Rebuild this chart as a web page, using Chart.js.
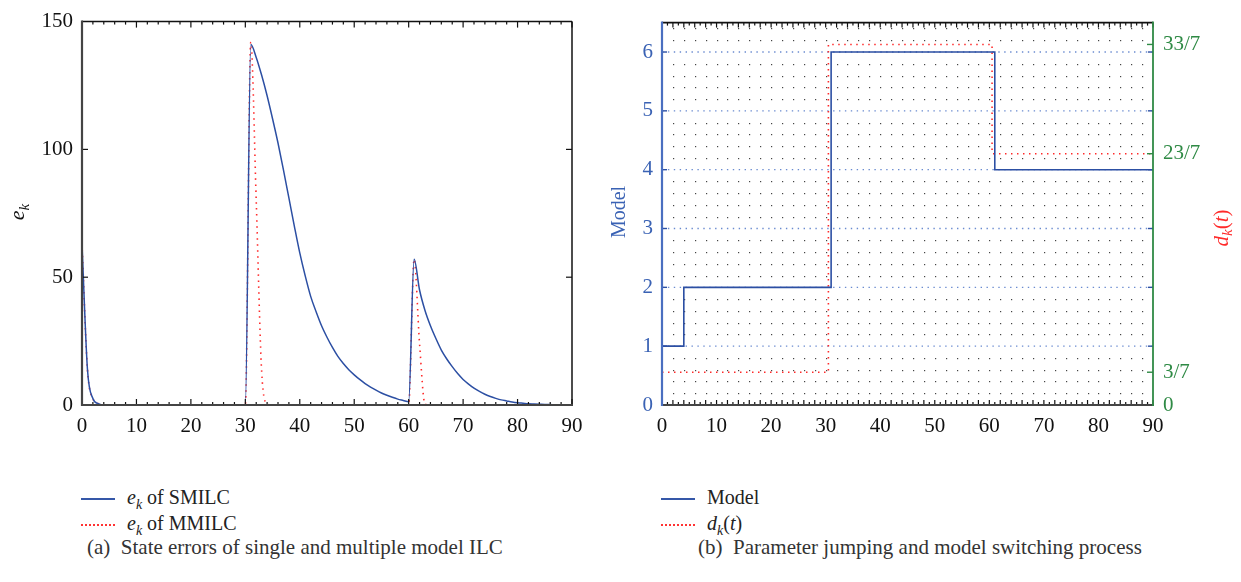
<!DOCTYPE html>
<html>
<head>
<meta charset="utf-8">
<script src="https://cdn.jsdelivr.net/npm/chart.js@4.4.1/dist/chart.umd.min.js"></script>
<style>
body { margin: 0; background: #fff; width: 1241px; height: 582px; position: relative; overflow: hidden; font-family: "Liberation Serif", serif; }
#c1 { position: absolute; left: 0; top: 0; }
#c2 { position: absolute; left: 600px; top: 0; }
.leg { position: absolute; font-size: 20px; color: #222; }
.leg div { height: 26px; line-height: 26px; white-space: nowrap; }
.smp { display: inline-block; width: 34px; vertical-align: middle; margin-right: 12px; }
.solid { border-top: 2px solid #3557a8; }
.dot { border-top: 2px dotted #f33; }
.cap { position: absolute; font-size: 21px; color: #333; white-space: nowrap; }
</style>
</head>
<body>
<canvas id="c1" width="600" height="440"></canvas>
<canvas id="c2" width="641" height="440"></canvas>

<div class="leg" style="left:81px; top:484px">
  <div><span class="smp solid"></span><i>e<sub style="font-size:14px">k</sub></i> of SMILC</div>
  <div><span class="smp dot"></span><i>e<sub style="font-size:14px">k</sub></i> of MMILC</div>
</div>
<div class="cap" style="left:87px; top:535px">(a)&nbsp; State errors of single and multiple model ILC</div>

<div class="leg" style="left:661px; top:484px">
  <div><span class="smp solid"></span>Model</div>
  <div><span class="smp dot"></span><i>d<sub style="font-size:14px">k</sub></i>(<i>t</i>)</div>
</div>
<div class="cap" style="left:698px; top:535px">(b)&nbsp; Parameter jumping and model switching process</div>

<script>
// iteration index k = 0..90
const kVals = [
  0,1,2,3,4,5,6,7,8,9,10,11,12,13,14,15,16,17,18,19,20,21,22,23,24,25,26,27,28,29,
  30,31,32,33,34,35,36,37,38,39,40,41,42,43,44,45,46,47,48,49,50,51,52,53,54,55,56,57,58,59,
  60,61,62,63,64,65,66,67,68,69,70,71,72,73,74,75,76,77,78,79,80,81,82,83,84,85,86,87,88,89,90
];

// (a) state errors
const eSMILC = [
  63,14,2.5,0.5,0,0,0,0,0,0,
  0,0,0,0,0,0,0,0,0,0,
  0,0,0,0,0,0,0,0,0,0,
  0,141,136,129,121,112,102.5,92,81,70,
  59.5,50.5,42.5,36.5,31,26.5,22.5,19,16.2,13.8,
  11.8,10,8.4,7,5.8,4.7,3.8,3,2.3,1.8,
  1.3,57,45,37,31,26,21.5,18,15,12.3,
  10,8.2,6.6,5.3,4.2,3.3,2.6,2,1.6,1.2,
  0.9,0.7,0.5,0.4,0.3,0.2,0.15,0.1,0.08,0.05,
  0.03
];
const eMMILC = [
  63,14,2.5,0.5,0,0,0,0,0,0,
  0,0,0,0,0,0,0,0,0,0,
  0,0,0,0,0,0,0,0,0,0,
  0,142,80,13,0.5,0,0,0,0,0,
  0,0,0,0,0,0,0,0,0,0,
  0,0,0,0,0,0,0,0,0,0,
  0,57,24,0.3,0,0,0,0,0,0,
  0,0,0,0,0,0,0,0,0,0,
  0,0,0,0,0,0,0,0,0,0,
  0
];

// (b) model index and parameter d_k(t)
const modelIdx = [
  1,1,1,1,2,2,2,2,2,2,
  2,2,2,2,2,2,2,2,2,2,
  2,2,2,2,2,2,2,2,2,2,
  2,6,6,6,6,6,6,6,6,6,
  6,6,6,6,6,6,6,6,6,6,
  6,6,6,6,6,6,6,6,6,6,
  6,4,4,4,4,4,4,4,4,4,
  4,4,4,4,4,4,4,4,4,4,
  4,4,4,4,4,4,4,4,4,4,
  4
];
const dParam = [
  3/7,3/7,3/7,3/7,3/7,3/7,3/7,3/7,3/7,3/7,
  3/7,3/7,3/7,3/7,3/7,3/7,3/7,3/7,3/7,3/7,
  3/7,3/7,3/7,3/7,3/7,3/7,3/7,3/7,3/7,3/7,
  3/7,33/7,33/7,33/7,33/7,33/7,33/7,33/7,33/7,33/7,
  33/7,33/7,33/7,33/7,33/7,33/7,33/7,33/7,33/7,33/7,
  33/7,33/7,33/7,33/7,33/7,33/7,33/7,33/7,33/7,33/7,
  33/7,23/7,23/7,23/7,23/7,23/7,23/7,23/7,23/7,23/7,
  23/7,23/7,23/7,23/7,23/7,23/7,23/7,23/7,23/7,23/7,
  23/7,23/7,23/7,23/7,23/7,23/7,23/7,23/7,23/7,23/7,
  23/7
];

const modelTicks = [0, 1, 2, 3, 4, 5, 6];
const dTickVals = [0, 3/7, 23/7, 33/7];
const dTickLabels = ['0', '3/7', '23/7', '33/7'];

const BLUE = '#2c4fa3';
const RED = '#ff2a2a';
const GREEN = '#2f8a45';
const FONT = '"Liberation Serif"';

const pts = arr => arr.map((v, i) => ({ x: kVals[i], y: v }));

// draws a small math label like e_k or d_k(t)
function drawMath(ctx, parts, cx, cy, rot, size, color) {
  const fnt = p => (p.it ? 'italic ' : '') + (p.sub ? Math.round(size * 0.7) : size) + 'px ' + FONT;
  ctx.save();
  ctx.translate(cx, cy);
  ctx.rotate(rot);
  let w = 0;
  parts.forEach(p => { ctx.font = fnt(p); w += ctx.measureText(p.t).width; });
  let x = -w / 2;
  ctx.fillStyle = color;
  ctx.textBaseline = 'middle';
  parts.forEach(p => {
    ctx.font = fnt(p);
    ctx.fillText(p.t, x, p.sub ? size * 0.3 : 0);
    x += ctx.measureText(p.t).width;
  });
  ctx.restore();
}

function line(ctx, x1, y1, x2, y2, color, w) {
  ctx.beginPath();
  ctx.strokeStyle = color;
  ctx.lineWidth = w;
  ctx.moveTo(x1, y1);
  ctx.lineTo(x2, y2);
  ctx.stroke();
}

// ---------- chart (a) ----------
const frameA = {
  id: 'frameA',
  afterDraw(chart) {
    const { ctx, chartArea: a, scales } = chart;
    const sx = scales.x, sy = scales.y;
    ctx.save();
    for (let v = 0; v <= 90; v += 2) {
      const px = sx.getPixelForValue(v);
      const len = v % 10 === 0 ? 6 : 3;
      line(ctx, px, a.bottom, px, a.bottom - len, '#111', 1.2);
      line(ctx, px, a.top, px, a.top + len, '#111', 1.2);
    }
    [50, 100].forEach(v => {
      const py = sy.getPixelForValue(v);
      line(ctx, a.left, py, a.left + 6, py, '#111', 1.2);
      line(ctx, a.right, py, a.right - 6, py, '#111', 1.2);
    });
    line(ctx, a.left, a.top, a.right, a.top, '#111', 1.5);
    line(ctx, a.right, a.top, a.right, a.bottom, '#111', 1.5);
    line(ctx, a.left, a.top - 1, a.left, a.bottom + 1, '#444', 2.2);
    line(ctx, a.left - 1, a.bottom, a.right + 1, a.bottom, '#444', 2.2);
    drawMath(ctx, [{ t: 'k', it: true }], (a.left + a.right) / 2, 456, 0, 22, '#111');
    drawMath(ctx, [{ t: 'e', it: true }, { t: 'k', it: true, sub: true }], 18, 212, -Math.PI / 2, 22, '#111');
    ctx.restore();
  }
};

// ---------- chart (b) ----------
const frameB = {
  id: 'frameB',
  beforeDatasetsDraw(chart) {
    const { ctx, chartArea: a, scales } = chart;
    const sx = scales.x, sy = scales.y;
    ctx.save();
    ctx.fillStyle = '#444';
    for (let v = 2; v < 90; v += 2) {
      const px = Math.round(sx.getPixelForValue(v));
      for (let j = 1; j <= 32; j++) {
        if (j % 5 === 0) continue;
        const py = Math.round(sy.getPixelForValue(j / 5));
        ctx.fillRect(px, py, 1.2, 1.2);
      }
    }
    ctx.setLineDash([1.4, 4.5]);
    modelTicks.slice(1).forEach(v => {
      const py = sy.getPixelForValue(v);
      line(ctx, a.left, py, a.right, py, '#6a8bd0', 1.3);
    });
    ctx.setLineDash([]);
    ctx.restore();
  },
  afterDraw(chart) {
    const { ctx, chartArea: a, scales } = chart;
    const sx = scales.x, sy = scales.y, sd = scales.y2;
    ctx.save();
    for (let v = 0; v <= 90; v += 1) {
      const px = sx.getPixelForValue(v);
      const len = v % 2 === 0 ? 5 : 3;
      line(ctx, px, a.bottom, px, a.bottom - len, '#111', 1.2);
      line(ctx, px, a.top, px, a.top + len, '#111', 1.2);
    }
    modelTicks.slice(1).forEach(v => {
      const py = sy.getPixelForValue(v);
      line(ctx, a.left, py, a.left + 5, py, BLUE, 1.4);
      line(ctx, a.right, py, a.right - 5, py, BLUE, 1.4);
    });
    dTickVals.slice(1).forEach(v => {
      const py = sd.getPixelForValue(v);
      line(ctx, a.right, py, a.right - 6, py, GREEN, 1.4);
    });
    line(ctx, a.left, a.top, a.right, a.top, '#111', 1.8);
    line(ctx, a.left - 1, a.bottom, a.right + 1, a.bottom, '#444', 2.2);
    line(ctx, a.left, a.top - 1, a.left, a.bottom + 1, '#4a6fc0', 2.2);
    line(ctx, a.right, a.top - 1, a.right, a.bottom + 1, GREEN, 1.8);
    drawMath(ctx, [{ t: 'k', it: true }], (a.left + a.right) / 2, 458, 0, 22, '#111');
    drawMath(ctx, [{ t: 'Model' }], 20, 212, -Math.PI / 2, 20, '#3a62b4');
    drawMath(ctx, [{ t: 'd', it: true }, { t: 'k', it: true, sub: true }, { t: '(' }, { t: 't', it: true }, { t: ')' }],
      622, 228, -Math.PI / 2, 21, RED);
    ctx.restore();
  }
};

function build() {
  new Chart(document.getElementById('c1'), {
    type: 'line',
    data: {
      datasets: [
        { label: 'SMILC', data: pts(eSMILC), borderColor: BLUE, borderWidth: 1.5, pointRadius: 0, cubicInterpolationMode: 'monotone' },
        { label: 'MMILC', data: pts(eMMILC), borderColor: RED, borderWidth: 1.6, borderDash: [1.5, 4.5], pointRadius: 0, cubicInterpolationMode: 'monotone' }
      ]
    },
    options: {
      responsive: false,
      animation: false,
      layout: { padding: { top: 19, right: 28, left: 0, bottom: 0 } },
      plugins: { legend: { display: false }, tooltip: { enabled: false } },
      scales: {
        x: {
          type: 'linear', min: 0, max: 90,
          grid: { display: false, drawTicks: false }, border: { display: false },
          ticks: { stepSize: 10, padding: 9, color: '#111', font: { family: FONT, size: 21 } },
          afterFit(s) { s.height = 35; }
        },
        y: {
          min: 0, max: 150,
          grid: { display: false, drawTicks: false }, border: { display: false },
          ticks: { stepSize: 50, padding: 9, color: '#111', font: { family: FONT, size: 21 } },
          afterFit(s) { s.width = 82; }
        }
      }
    },
    plugins: [frameA]
  });

  new Chart(document.getElementById('c2'), {
    type: 'line',
    data: {
      datasets: [
        { label: 'Model', data: pts(modelIdx), yAxisID: 'y', stepped: 'before', borderColor: BLUE, borderWidth: 1.6, pointRadius: 0 },
        { label: 'd_k(t)', data: pts(dParam), yAxisID: 'y2', stepped: 'middle', borderColor: RED, borderWidth: 1.6, borderDash: [1.5, 4.5], pointRadius: 0 }
      ]
    },
    options: {
      responsive: false,
      animation: false,
      layout: { padding: { top: 18, right: 0, left: 0, bottom: 0 } },
      plugins: { legend: { display: false }, tooltip: { enabled: false } },
      scales: {
        x: {
          type: 'linear', min: 0, max: 90,
          grid: { display: false, drawTicks: false }, border: { display: false },
          ticks: { stepSize: 10, padding: 9, color: '#111', font: { family: FONT, size: 21 } },
          afterFit(s) { s.height = 35; }
        },
        y: {
          position: 'left', min: 0, max: 6.5,
          grid: { display: false, drawTicks: false }, border: { display: false },
          afterBuildTicks(s) { s.ticks = modelTicks.map(v => ({ value: v })); },
          ticks: { padding: 9, color: '#3a62b4', font: { family: FONT, size: 21 } },
          afterFit(s) { s.width = 62; }
        },
        y2: {
          position: 'right', min: 0, max: 5,
          grid: { display: false, drawTicks: false }, border: { display: false },
          afterBuildTicks(s) { s.ticks = dTickVals.map(v => ({ value: v })); },
          ticks: {
            padding: 10, color: GREEN, font: { family: FONT, size: 21 },
            callback: (v) => dTickLabels[dTickVals.findIndex(t => Math.abs(t - v) < 1e-6)]
          },
          afterFit(s) { s.width = 88; }
        }
      }
    },
    plugins: [frameB]
  });
}

Promise.all([
  document.fonts.load('21px "Liberation Serif"'),
  document.fonts.load('italic 22px "Liberation Serif"')
]).then(build, build);
</script>
</body>
</html>
